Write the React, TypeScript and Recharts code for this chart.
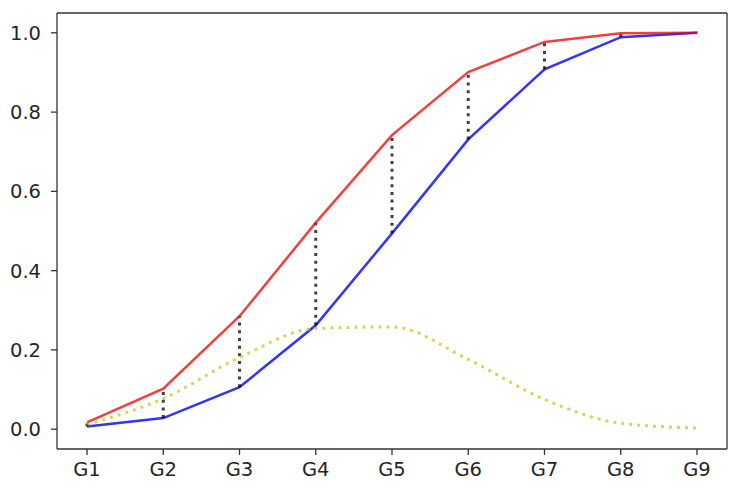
import { LineChart, Line, XAxis, YAxis, ErrorBar } from "recharts";

const groups = ["G1", "G2", "G3", "G4", "G5", "G6", "G7", "G8", "G9"];
const upper = [0.017, 0.102, 0.285, 0.521, 0.742, 0.901, 0.977, 0.999, 1.0];
const lower = [0.007, 0.028, 0.106, 0.262, 0.494, 0.731, 0.908, 0.989, 1.0];
const density = [0.012, 0.077, 0.181, 0.254, 0.258, 0.176, 0.075, 0.015, 0.003];
const yTicks = [0, 0.2, 0.4, 0.6, 0.8, 1.0];

const data = groups.map((g, i) => ({
  name: g,
  upper: upper[i],
  lower: lower[i],
  density: density[i],
  // error bar running from the red line down to the blue one
  gap: [upper[i] - lower[i], 0],
}));

const axisColor = "#333";
const tickFont = { fontSize: 19.5, fill: "#262626", fontFamily: "DejaVu Sans" };

export default function App() {
  return (
    <div style={{ position: "absolute", left: 0, top: 0, background: "#fff" }}>
      <LineChart
        width={736}
        height={488}
        data={data}
        margin={{ top: 12, right: 8, left: 0, bottom: 0 }}
      >
        <XAxis
          dataKey="name"
          padding={{ left: 30, right: 30 }}
          height={39}
          tick={tickFont}
          tickSize={6}
          tickMargin={7}
          stroke={axisColor}
          strokeWidth={1.3}
          tickLine={{ stroke: axisColor, strokeWidth: 1.3 }}
          interval={0}
        />
        <XAxis
          xAxisId="top"
          dataKey="name"
          orientation="top"
          height={1}
          tick={false}
          tickLine={false}
          stroke={axisColor}
          strokeWidth={1.3}
        />
        <YAxis
          domain={[-0.05, 1.05]}
          ticks={yTicks}
          width={57}
          tick={tickFont}
          tickSize={6}
          tickMargin={10}
          tickFormatter={(v: number) => v.toFixed(1)}
          stroke={axisColor}
          strokeWidth={1.3}
          tickLine={{ stroke: axisColor, strokeWidth: 1.3 }}
          allowDataOverflow
        />
        <YAxis
          yAxisId="right"
          orientation="right"
          width={1}
          domain={[-0.05, 1.05]}
          tick={false}
          tickLine={false}
          stroke={axisColor}
          strokeWidth={1.3}
        />
        <Line
          dataKey="lower"
          type="linear"
          stroke="rgba(0,0,255,0.8)"
          strokeWidth={2.5}
          dot={false}
          isAnimationActive={false}
        />
        <Line
          dataKey="upper"
          type="linear"
          stroke="rgba(238,0,0,0.75)"
          strokeWidth={2.5}
          dot={false}
          isAnimationActive={false}
        >
          <ErrorBar
            dataKey="gap"
            direction="y"
            width={0}
            stroke="rgba(0,0,0,0.75)"
            strokeWidth={3}
            strokeDasharray="3 4.7"
            isAnimationActive={false}
          />
        </Line>
        <Line
          dataKey="density"
          type="monotone"
          stroke="rgba(191,191,0,0.65)"
          strokeWidth={3}
          strokeDasharray="3 5"
          dot={false}
          isAnimationActive={false}
        />
      </LineChart>
    </div>
  );
}
